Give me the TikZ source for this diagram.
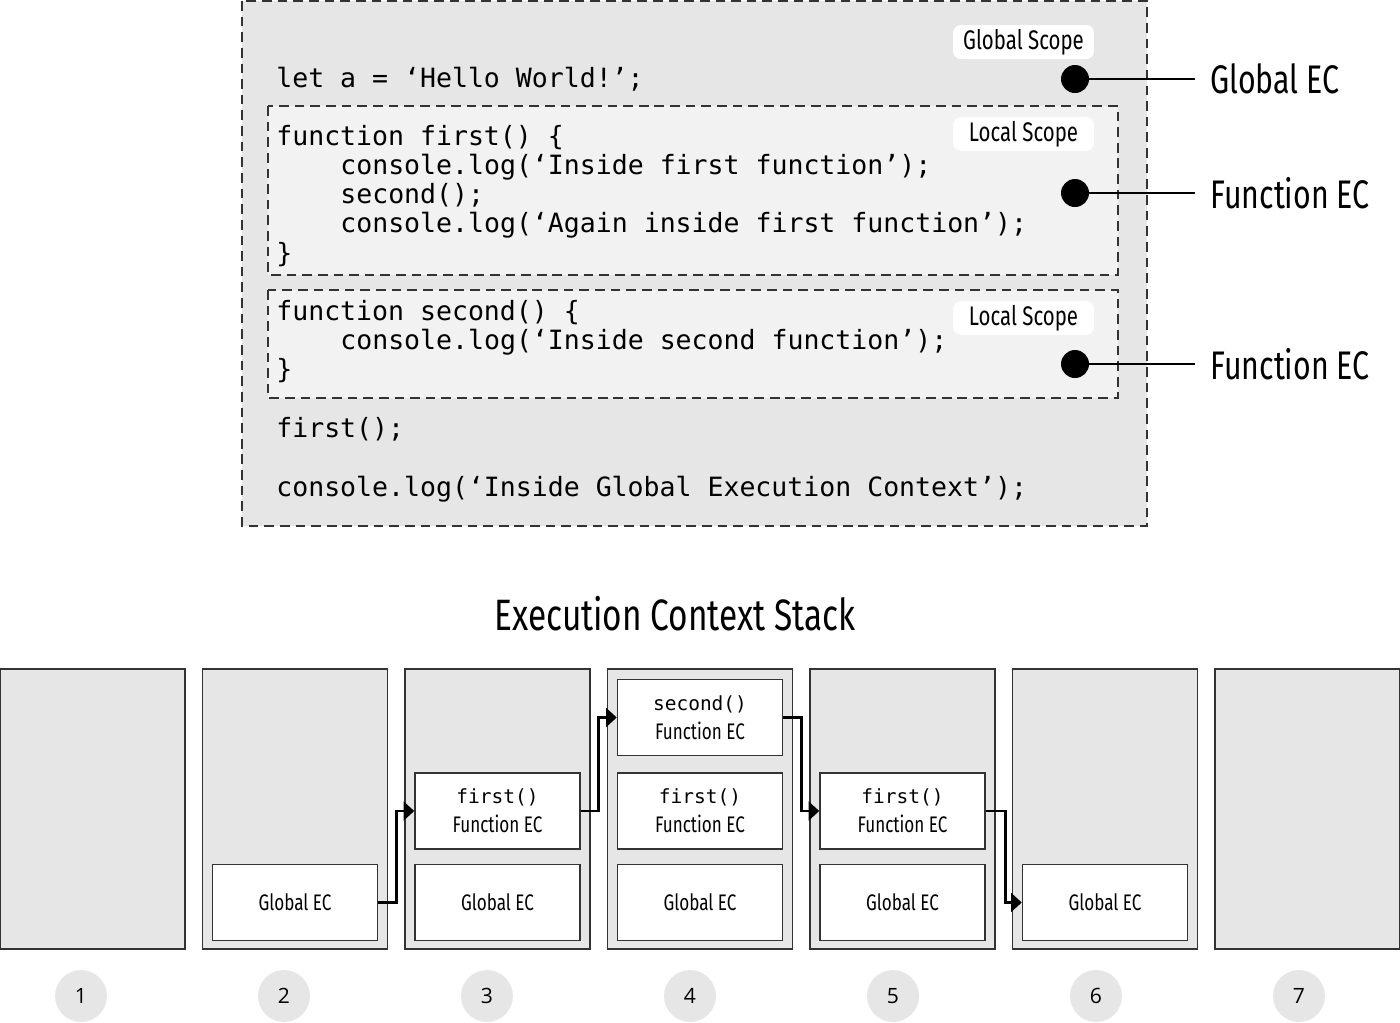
\documentclass[tikz,border=0pt]{standalone}
\usepackage{fontspec}
\setmainfont{Fira Sans}[FakeStretch=0.76]
\setmonofont{DejaVu Sans Mono}
\newfontfamily\numfont{Open Sans}
\usetikzlibrary{arrows.meta}
\definecolor{boxgray}{HTML}{E6E6E6}
\definecolor{scopegray}{HTML}{F2F2F2}
\definecolor{edge}{HTML}{333333}

\begin{document}
\begin{tikzpicture}[x=0.02cm,y=-0.02cm]
\useasboundingbox (0,0) rectangle (1400,1022);

\tikzset{body/.style={dash pattern=on 5.5pt off 3.4pt,draw=edge,line width=0.7pt}}
\draw[body,fill=boxgray] (242,1) rectangle (1147,526);
\draw[body,fill=scopegray] (268,106) rectangle (1118,275);
\draw[body,fill=scopegray] (268,290) rectangle (1118,398);

\tikzset{code/.style={anchor=mid west,inner sep=0,font=\fontsize{15.1}{18}\ttfamily}}

\node[code] (let) at (276,82.5) {let a = ‘Hello World!’;};
\node[code] (fone) at (276,140.5) {function first() \{};
\node[code] (fone log) at (340,169.8) {console.log(‘Inside first function’);};
\node[code] (fone call) at (340,199) {second();};
\node[code] (fone again) at (340,228.3) {console.log(‘Again inside first function’);};
\node[code] (fone end) at (276,257.6) {\}};

\node[code] (ftwo) at (276,316) {function second() \{};
\node[code] (ftwo log) at (340,345) {console.log(‘Inside second function’);};
\node[code] (ftwo end) at (276,374) {\}};

\node[code] (call) at (276,433) {first();};
\node[code] (glog) at (276,492) {console.log(‘Inside Global Execution Context’);};

\tikzset{scopelabel/.style={fill=white,rounded corners=0.16cm,minimum width=2.82cm,minimum height=0.68cm,inner sep=0,font=\fontsize{15.3}{17}\selectfont}}
\node[scopelabel] (gscope) at (1023.5,42) {Global Scope};
\node[scopelabel] (lscope1) at (1023.5,134) {Local Scope};
\node[scopelabel] (lscope2) at (1023.5,318) {Local Scope};

\tikzset{ecdot/.style={circle,fill=black,minimum size=0.56cm,inner sep=0},
  ec/.style={anchor=west,inner ysep=0,inner xsep=0.3cm,font=\fontsize{22.7}{26}\selectfont}}
\node[ecdot] (d1) at (1075,79) {};
\node[ecdot] (d2) at (1075,193) {};
\node[ecdot] (d3) at (1075,364) {};
\node[ec] (e1) at (1195,79) {Global EC};
\node[ec] (e2) at (1195,193) {Function EC};
\node[ec] (e3) at (1195,364) {Function EC};
\draw[line width=0.6pt] (d1) -- (e1.west);
\draw[line width=0.6pt] (d2) -- (e2.west);
\draw[line width=0.6pt] (d3) -- (e3.west);

\node[font=\fontsize{25}{28}\selectfont] (title) at (675,614) {Execution Context Stack};

\tikzset{stack/.style={draw=edge,fill=boxgray,line width=0.85pt,minimum width=3.7cm,minimum height=5.6cm,inner sep=0}}
\node[stack] (s1) at (92.5,809) {};
\node[stack] (s2) at (295,809) {};
\node[stack] (s3) at (497.5,809) {};
\node[stack] (s4) at (700,809) {};
\node[stack] (s5) at (902.5,809) {};
\node[stack] (s6) at (1105,809) {};
\node[stack] (s7) at (1307.5,809) {};

\tikzset{ecbox/.style={draw=edge,fill=white,line width=0.85pt,minimum width=3.3cm,minimum height=1.52cm,inner sep=0,align=center,font=\fontsize{12.8}{16.5}\selectfont}}
\newcommand{\fn}[1]{{\ttfamily\fontsize{11.1}{13}\selectfont #1}}

\node[ecbox] (g2) at (295,902.5) {Global EC};

\node[ecbox] (f3) at (497.5,811) {\fn{first()}\\Function EC};
\node[ecbox] (g3) at (497.5,902.5) {Global EC};

\node[ecbox] (sc4) at (700,717.5) {\fn{second()}\\Function EC};
\node[ecbox] (f4) at (700,811) {\fn{first()}\\Function EC};
\node[ecbox] (g4) at (700,902.5) {Global EC};

\node[ecbox] (f5) at (902.5,811) {\fn{first()}\\Function EC};
\node[ecbox] (g5) at (902.5,902.5) {Global EC};

\node[ecbox] (g6) at (1105,902.5) {Global EC};

\tikzset{flow/.style={line width=1.5pt,-{Triangle[length=6pt,width=10.5pt]}}}
\draw[flow] (g2.east) -- ++(18,0) |- (f3.west);
\draw[flow] (f3.east) -- ++(18,0) |- (sc4.west);
\draw[flow] (sc4.east) -- ++(18,0) |- (f5.west);
\draw[flow] (f5.east) -- ++(20,0) |- (g6.west);

\tikzset{stepnum/.style={circle,fill=boxgray,minimum size=1.04cm,inner sep=0,font=\numfont\fontsize{12}{14}\selectfont}}
\node[stepnum] (n1) at (81,996) {1};
\node[stepnum] (n2) at (284,996) {2};
\node[stepnum] (n3) at (487,996) {3};
\node[stepnum] (n4) at (690,996) {4};
\node[stepnum] (n5) at (893,996) {5};
\node[stepnum] (n6) at (1096,996) {6};
\node[stepnum] (n7) at (1299,996) {7};

\end{tikzpicture}
\end{document}
